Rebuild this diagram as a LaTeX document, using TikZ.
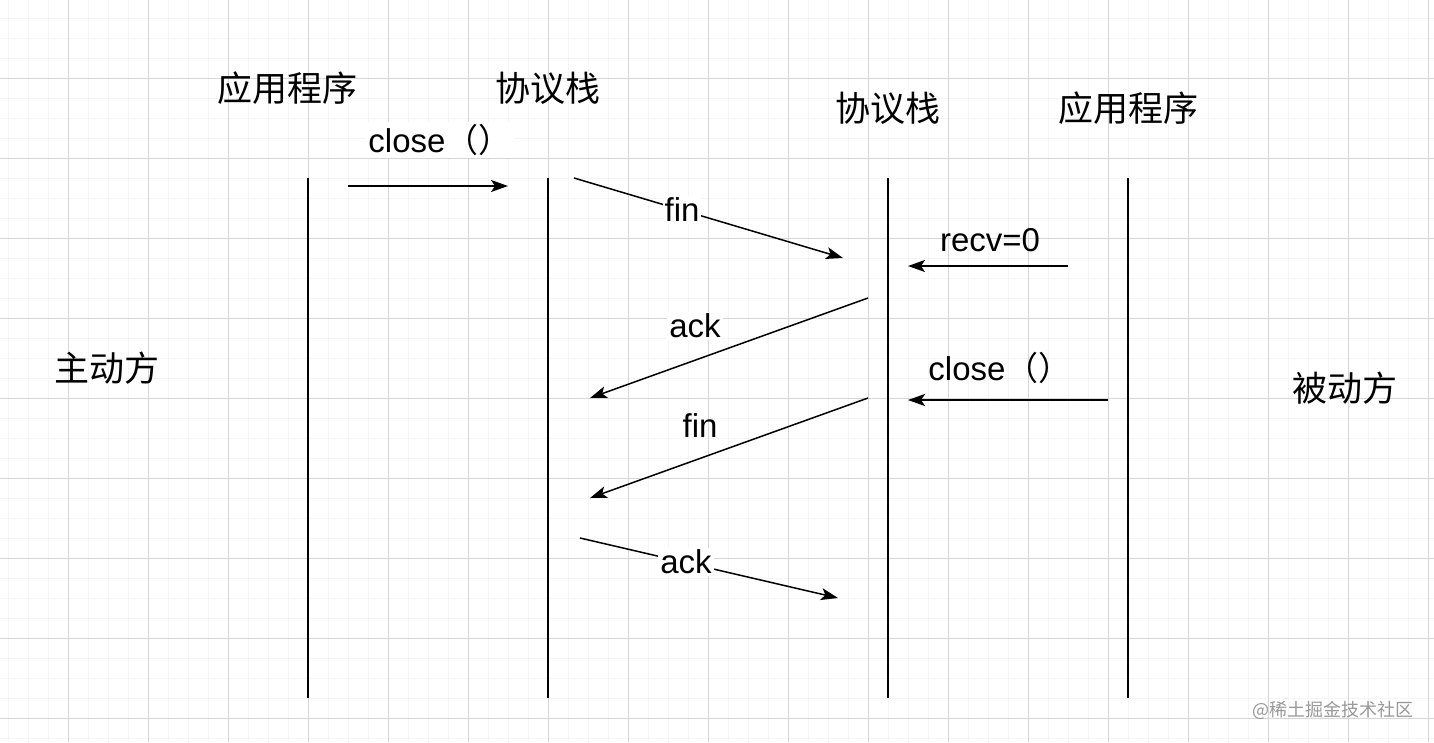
\documentclass[tikz,border=0pt]{standalone}
\usepackage{fontspec}
\usetikzlibrary{arrows.meta}
\setmainfont{Liberation Sans}
\newfontfamily\cjk{Noto Sans CJK SC}
\begin{document}
\begin{tikzpicture}[x=1pt,y=-1pt,
  minorg/.style={draw=black!4,line width=1pt},
  majorg/.style={draw=black!16,line width=1pt},
  life/.style={line width=1.6pt},
  msg/.style={line width=1.5pt,-{Stealth[length=17pt,width=12pt,inset=4pt]}},
  lbl/.style={fill=white,inner sep=2pt,font=\fontsize{33}{38}\selectfont},
  hd/.style={font=\cjk\fontsize{35}{40}\selectfont}]
\useasboundingbox (0,0) rectangle (1434,742);
\fill[white] (0,0) rectangle (1434,742);
\foreach \x in {8,28,...,1434} \draw[minorg] (\x,0) -- (\x,742);
\foreach \y in {18,38,...,742} \draw[minorg] (0,\y) -- (1434,\y);
\foreach \x in {68,148,...,1434} \draw[majorg] (\x,0) -- (\x,742);
\foreach \y in {78,158,...,742} \draw[majorg] (0,\y) -- (1434,\y);
% headers
\node[hd] (h1) at (287,88) {应用程序};
\node[hd] (h2) at (548,88) {协议栈};
\node[hd] (h3) at (888,108) {协议栈};
\node[hd] (h4) at (1128,108) {应用程序};
\node[hd] (s1) at (107,368) {主动方};
\node[hd] (s2) at (1345,388) {被动方};
% lifelines
\foreach \n/\x in {a/308,b/548,c/888,d/1128}{
  \coordinate (\n t) at (\x,178); \coordinate (\n b) at (\x,698);
  \draw[life] (\n t) -- (\n b);}
% messages
\coordinate (m1s) at (348,186); \coordinate (m1e) at (508,186);
\coordinate (m2s) at (574,178); \coordinate (m2e) at (843,258);
\coordinate (m3s) at (1068,266); \coordinate (m3e) at (908,266);
\coordinate (m4s) at (868,298); \coordinate (m4e) at (590,398);
\coordinate (m5s) at (1108,400); \coordinate (m5e) at (908,400);
\coordinate (m6s) at (868,398); \coordinate (m6e) at (590,498);
\coordinate (m7s) at (580,538); \coordinate (m7e) at (838,598);
\draw[msg] (m1s) -- (m1e);
\draw[msg] (m2s) -- (m2e);
\draw[msg] (m3s) -- (m3e);
\draw[msg] (m4s) -- (m4e);
\draw[msg,line width=2.4pt] (m5s) -- (m5e);
\draw[msg] (m6s) -- (m6e);
\draw[msg] (m7s) -- (m7e);
\node[lbl] (l1) at (440,140) {close{\cjk（）}};
\node[lbl] (l2) at (682,210) {fin};
\node[lbl,fill=none] (l3) at (990,240) {recv=0};
\node[lbl] (l4) at (695,326) {ack};
\node[lbl,fill=none] (l5) at (1000,368) {close{\cjk（）}};
\node[lbl,fill=none] (l6) at (700,426) {fin};
\node[lbl] (l7) at (686,562) {ack};
\node[font=\cjk\fontsize{18}{20}\selectfont,text=black!40] (wm) at (1333,710) {@稀土掘金技术社区};
\end{tikzpicture}
\end{document}
